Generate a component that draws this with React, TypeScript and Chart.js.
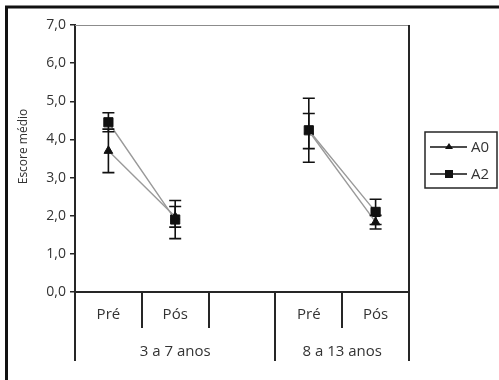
import React, { useEffect, useRef } from "react";
import { Chart, registerables } from "chart.js";

Chart.register(...registerables);

const categories = ["Pré", "Pós", "", "Pré", "Pós"];
const groupLabels = ["3 a 7 anos", "8 a 13 anos"];
const groupSizes = [3, 2];
const yTicks = [0, 1, 2, 3, 4, 5, 6, 7];

const seriesNames = ["A0", "A2"];
const a0Values = [3.7, 1.97, null, 4.22, 1.83];
const a0Errors = [0.57, 0.27, null, 0.46, 0.18];
const a2Values = [4.45, 1.9, null, 4.24, 2.1];
const a2Errors = [0.25, 0.5, null, 0.84, 0.33];

const yTitle = "Escore médio";
const FONT = "'Open Sans', 'Noto Sans', sans-serif";
const TEXT = "#333333";
const DARK = "#262626";

const customPlugin = {
  id: "custom",
  beforeDraw(chart: any) {
    const ctx = chart.ctx;
    ctx.save();
    ctx.fillStyle = "#ffffff";
    ctx.fillRect(0, 0, chart.width, chart.height);
    ctx.restore();
  },
  afterDatasetsDraw(chart: any) {
    const ctx = chart.ctx;
    const y = chart.scales.y;
    const errs = [a0Errors, a2Errors];
    ctx.save();
    ctx.strokeStyle = "#111111";
    ctx.lineWidth = 1.6;
    chart.data.datasets.forEach((ds: any, di: number) => {
      const meta = chart.getDatasetMeta(di);
      ds.data.forEach((v: number | null, i: number) => {
        const e = errs[di][i];
        if (v == null || e == null) return;
        const px = meta.data[i].x;
        const top = y.getPixelForValue(v + e);
        const bot = y.getPixelForValue(v - e);
        ctx.beginPath();
        ctx.moveTo(px, top);
        ctx.lineTo(px, bot);
        ctx.moveTo(px - 6, top);
        ctx.lineTo(px + 6, top);
        ctx.moveTo(px - 6, bot);
        ctx.lineTo(px + 6, bot);
        ctx.stroke();
      });
    });
    ctx.restore();
  },
  afterDraw(chart: any) {
    const ctx = chart.ctx;
    const { left, right, top, bottom } = chart.chartArea;
    const x = chart.scales.x;
    const w = x.getPixelForValue(1) - x.getPixelForValue(0);
    const b0 = x.getPixelForValue(0) - w / 2;
    ctx.save();
    ctx.strokeStyle = "#8c8c8c";
    ctx.lineWidth = 1;
    ctx.beginPath();
    ctx.moveTo(left, top + 0.5);
    ctx.lineTo(right, top + 0.5);
    ctx.stroke();
    const longIdx: number[] = [0];
    let acc = 0;
    groupSizes.forEach((g) => {
      acc += g;
      longIdx.push(acc);
    });
    ctx.strokeStyle = DARK;
    ctx.lineWidth = 2;
    for (let i = 0; i <= categories.length; i++) {
      const px = Math.round(b0 + i * w);
      const isLong = longIdx.includes(i);
      ctx.beginPath();
      ctx.moveTo(px, i === categories.length ? top : bottom);
      ctx.lineTo(px, isLong ? bottom + 69 : bottom + 36);
      ctx.stroke();
    }
    ctx.fillStyle = TEXT;
    ctx.font = `15px ${FONT}`;
    ctx.textAlign = "center";
    ctx.textBaseline = "middle";
    let start = 0;
    groupLabels.forEach((lab, gi) => {
      const end = start + groupSizes[gi];
      const cx = b0 + ((start + end) / 2) * w;
      ctx.fillText(lab, cx, bottom + 60);
      start = end;
    });
    ctx.save();
    ctx.translate(24, (top + bottom) / 2 - 12);
    ctx.rotate(-Math.PI / 2);
    ctx.font = `12px ${FONT}`;
    ctx.fillText(yTitle, 0, 0);
    ctx.restore();
    const lx = 425, ly = 132, lw = 72, lh = 56;
    ctx.strokeStyle = DARK;
    ctx.lineWidth = 1.5;
    ctx.strokeRect(lx, ly, lw, lh);
    const styles = ["triangle", "rect"];
    seriesNames.forEach((name, si) => {
      const yy = ly + 15 + si * 27;
      ctx.strokeStyle = "#111";
      ctx.lineWidth = 1.5;
      ctx.beginPath();
      ctx.moveTo(lx + 5, yy);
      ctx.lineTo(lx + 42, yy);
      ctx.stroke();
      ctx.fillStyle = "#111";
      if (styles[si] === "triangle") {
        ctx.beginPath();
        ctx.moveTo(lx + 24, yy - 4);
        ctx.lineTo(lx + 28, yy + 2);
        ctx.lineTo(lx + 20, yy + 2);
        ctx.closePath();
        ctx.fill();
      } else {
        ctx.fillRect(lx + 20, yy - 4, 8, 8);
      }
      ctx.fillStyle = TEXT;
      ctx.font = `15px ${FONT}`;
      ctx.textAlign = "left";
      ctx.fillText(name, lx + 46, yy + 1);
    });
    ctx.strokeStyle = "#111";
    ctx.lineWidth = 3;
    ctx.strokeRect(6.5, 7, 700, 700);
    ctx.restore();
  },
};

export default function App() {
  const ref = useRef<HTMLCanvasElement | null>(null);
  useEffect(() => {
    if (!ref.current) return;
    const chart = new Chart(ref.current, {
      type: "line",
      data: {
        labels: categories,
        datasets: [
          {
            label: seriesNames[0],
            data: a0Values,
            borderColor: "#9a9a9a",
            borderWidth: 1.4,
            pointStyle: "triangle",
            pointRadius: 5,
            pointBackgroundColor: "#111",
            pointBorderColor: "#111",
            pointBorderWidth: 1,
            spanGaps: false,
            tension: 0,
          },
          {
            label: seriesNames[1],
            data: a2Values,
            borderColor: "#9a9a9a",
            borderWidth: 1.4,
            pointStyle: "rect",
            pointRadius: 6.5,
            pointBackgroundColor: "#111",
            pointBorderColor: "#111",
            pointBorderWidth: 1,
            spanGaps: false,
            tension: 0,
          },
        ],
      },
      options: {
        responsive: false,
        animation: false,
        layout: { padding: { left: 0, top: 25, right: 90, bottom: 0 } },
        plugins: { legend: { display: false }, tooltip: { enabled: false } },
        scales: {
          x: {
            type: "category",
            offset: true,
            grid: { display: false, drawTicks: false },
            border: { display: true, color: DARK, width: 2 },
            ticks: { color: TEXT, font: { family: FONT, size: 15 }, padding: 14, maxRotation: 0, autoSkip: false },
            afterFit: (s: any) => {
              s.height = 88;
            },
          },
          y: {
            min: 0,
            max: 7,
            afterBuildTicks: (s: any) => {
              s.ticks = yTicks.map((v) => ({ value: v }));
            },
            grid: { drawOnChartArea: false, drawTicks: true, tickLength: 5, color: DARK, lineWidth: 1.5 },
            border: { display: true, color: DARK, width: 2 },
            ticks: {
              color: TEXT,
              font: { family: FONT, size: 14 },
              padding: 4,
              callback: (v: any) => Number(v).toFixed(1).replace(".", ","),
            },
            afterFit: (s: any) => {
              s.width = 75;
            },
          },
        },
      },
      plugins: [customPlugin],
    });
    return () => chart.destroy();
  }, []);
  return (
    <div style={{ position: "absolute", left: 0, top: 0, width: 499, height: 380 }}>
      <canvas ref={ref} width={499} height={380} />
    </div>
  );
}
